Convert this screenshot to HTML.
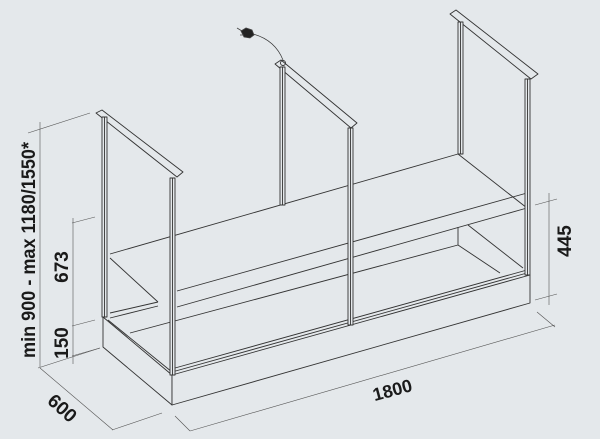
<!DOCTYPE html>
<html><head><meta charset="utf-8"><style>
html,body{margin:0;padding:0;background:#e4e8eb;}
svg{display:block;}
text{font-family:"Liberation Sans",sans-serif;font-weight:bold;fill:#1a1a1a;}
</style></head><body>
<svg width="600" height="439" viewBox="0 0 600 439" xmlns="http://www.w3.org/2000/svg">
<rect width="600" height="439" fill="#e4e8eb"/>
<g stroke="#333" stroke-width="0.9" fill="none" stroke-linejoin="round">
<polygon points="103,317 172,375 172,405 103,347" fill="#e4e8eb"/>
<polygon points="172,375 530,275 530,303 172,405" fill="#e4e8eb"/>
<line x1="108" y1="320" x2="172" y2="372"/>
<line x1="172" y1="372" x2="527" y2="273"/>
<line x1="175" y1="368" x2="527" y2="270"/>
<line x1="130" y1="333" x2="458" y2="245"/>
<line x1="458" y1="227" x2="458" y2="245"/>
<line x1="458" y1="245" x2="500" y2="273"/>
<line x1="468" y1="225" x2="523" y2="268"/>
<line x1="110" y1="313" x2="158" y2="302"/>
<line x1="110" y1="318" x2="158" y2="306"/>
<line x1="110" y1="254" x2="458" y2="154"/>
<line x1="110" y1="258" x2="158" y2="302"/>
<line x1="177" y1="307" x2="527" y2="208"/>
<line x1="177" y1="291" x2="527" y2="193"/>
<line x1="458" y1="154" x2="527" y2="208"/>
<polygon points="96,113 102,110 183,172 177,177" fill="#e4e8eb"/>
<rect x="102" y="117" width="5" height="200" fill="#e4e8eb"/>
<line x1="104.5" y1="117" x2="104.5" y2="317"/>
<rect x="170" y="178" width="5" height="197" fill="#e4e8eb"/>
<line x1="172.5" y1="178" x2="172.5" y2="375"/>
<polygon points="275,64 281,60 357,123 351,128" fill="#e4e8eb"/>
<circle cx="283" cy="63" r="2.5"/>
<rect x="280" y="67" width="5" height="138" fill="#e4e8eb"/>
<line x1="282.5" y1="67" x2="282.5" y2="205"/>
<rect x="348" y="128" width="5" height="197" fill="#e4e8eb"/>
<line x1="350.5" y1="128" x2="350.5" y2="325"/>
<polygon points="450,14 456,10 538,74 531,79" fill="#e4e8eb"/>
<rect x="458" y="22" width="5" height="132" fill="#e4e8eb"/>
<line x1="460.5" y1="22" x2="460.5" y2="154"/>
<rect x="525" y="79" width="5" height="196" fill="#e4e8eb"/>
<line x1="527.5" y1="79" x2="527.5" y2="275"/>
<path d="M253,34 Q275,40 283,60" stroke-width="0.7"/>
</g>
<g stroke="#444" stroke-width="0.8" fill="#222">
<path d="M241,31 l5,-3 l6,2 l2,5 l-4,3 l-6,-1 z"/>
<line x1="237" y1="28" x2="242" y2="31"/><line x1="240" y1="35" x2="244" y2="35"/>
</g>
<g stroke="#555" stroke-width="0.6" fill="none">
<line x1="40" y1="122" x2="40" y2="367"/>
<line x1="28" y1="133" x2="90" y2="113"/>
<line x1="38" y1="368" x2="100" y2="348"/>
<line x1="73" y1="218" x2="73" y2="364"/>
<line x1="72" y1="223" x2="95" y2="217"/>
<line x1="72" y1="326" x2="95" y2="320"/>
<line x1="72" y1="356" x2="100" y2="348"/>
<line x1="40" y1="368" x2="113" y2="430"/>
<line x1="112" y1="430" x2="162" y2="413"/>
<line x1="175" y1="416" x2="190" y2="431"/>
<line x1="190" y1="431" x2="555" y2="325"/>
<line x1="537" y1="312" x2="555" y2="327"/>
<line x1="549" y1="193" x2="549" y2="305"/>
<line x1="535" y1="205" x2="557" y2="199"/>
<line x1="535" y1="300" x2="557" y2="294"/>
</g>
<text transform="translate(35,250) rotate(-90)" text-anchor="middle" font-size="19" textLength="216" lengthAdjust="spacingAndGlyphs">min 900 - max 1180/1550*</text>
<text transform="translate(68,267) rotate(-90)" text-anchor="middle" font-size="19">673</text>
<text transform="translate(68,343) rotate(-90)" text-anchor="middle" font-size="19">150</text>
<text transform="translate(571,241) rotate(-90)" text-anchor="middle" font-size="19">445</text>
<text transform="translate(58,413) rotate(42)" text-anchor="middle" font-size="19">600</text>
<text transform="translate(394,396) rotate(-15)" text-anchor="middle" font-size="18">1800</text>
</svg>
</body></html>
